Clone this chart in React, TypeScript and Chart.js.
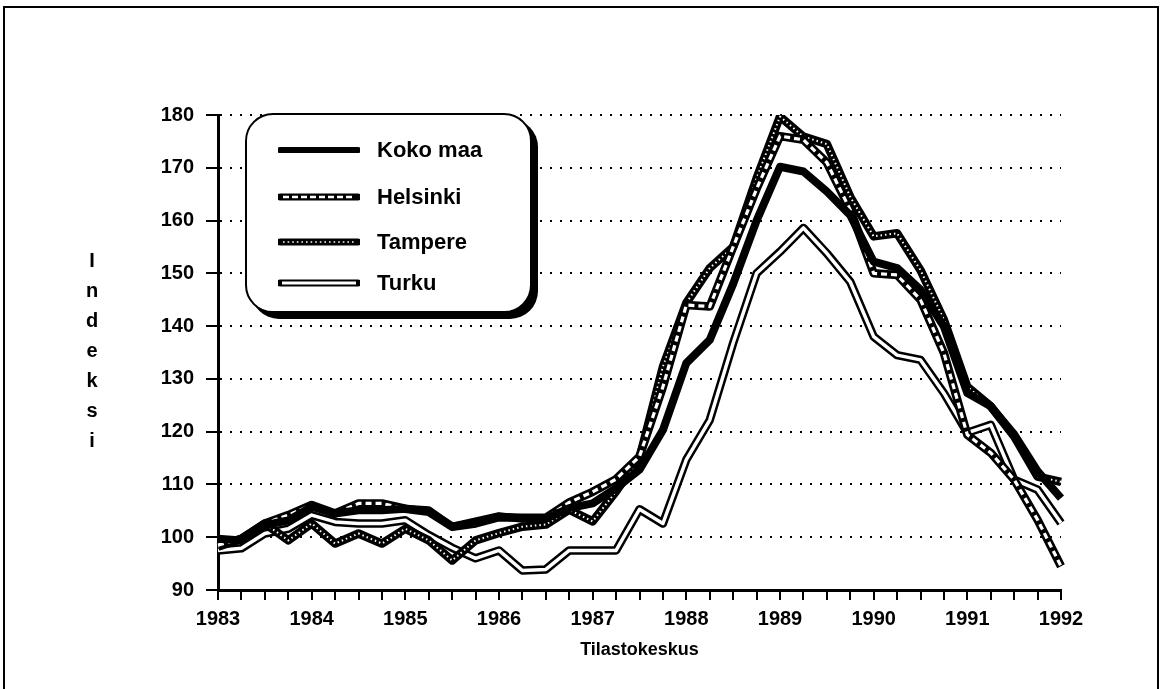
import React, { useEffect, useRef } from "react";
import { Chart, registerables } from "chart.js";

Chart.register(...registerables);

const quarters = [
  "1983 I", "1983 II", "1983 III", "1983 IV",
  "1984 I", "1984 II", "1984 III", "1984 IV",
  "1985 I", "1985 II", "1985 III", "1985 IV",
  "1986 I", "1986 II", "1986 III", "1986 IV",
  "1987 I", "1987 II", "1987 III", "1987 IV",
  "1988 I", "1988 II", "1988 III", "1988 IV",
  "1989 I", "1989 II", "1989 III", "1989 IV",
  "1990 I", "1990 II", "1990 III", "1990 IV",
  "1991 I", "1991 II", "1991 III", "1991 IV",
  "1992 I",
];

const kokoMaa = [
  99.7, 99.4, 102.3, 103.2, 105.8, 104.5, 105.1, 105.1, 105.4, 105.1, 102, 103,
  104, 103.5, 103.5, 105.5, 106.4, 109.3, 112.8, 120.3, 133, 137.4, 148, 160,
  170.2, 169.3, 165.5, 161, 152.2, 151, 146.9, 139.9, 127.3, 124.8, 119.5, 112.5,
  107.4,
];

const helsinki = [
  98.5, 99.7, 102.6, 104.2, 106.1, 104.5, 106.4, 106.4, 105.4, 104.8, 102, 102.6,
  103.8, 103.7, 103.7, 106.6, 108.6, 111, 115.3, 128.5, 144, 143.7, 155, 166,
  176, 175.3, 171, 162, 150, 149.7, 145, 134.9, 119.4, 116, 110.9, 103.3,
  94.5,
];

const tampere = [
  98.2, 99.7, 102.6, 99.4, 102.6, 98.8, 100.7, 98.8, 101.6, 99.4, 95.6, 99.4,
  100.8, 102, 102.4, 105.2, 103, 108.7, 115, 132.3, 144.4, 151, 155, 168,
  179.7, 175.9, 174.5, 164.5, 157, 157.6, 150.6, 141.2, 128.5, 124.8, 119.1, 111.5,
  110.5,
];

const turku = [
  97.5, 97.9, 100.7, 101.6, 104.2, 102.9, 102.6, 102.6, 103.2, 100.4, 98, 96,
  97.5, 93.7, 93.9, 97.5, 97.5, 97.5, 105.3, 102.6, 114.7, 122.2, 136.8, 150,
  154.1, 158.6, 153.8, 148.4, 138, 134.5, 133.6, 127.3, 119.8, 121.3, 110.9, 109,
  102.7,
];

const seriesNames = ["Koko maa", "Helsinki", "Tampere", "Turku"];
const yMin = 90;
const yMax = 180;
const yStep = 10;
const xTitle = "Tilastokeskus";
const yTitle = "Indeksi";

const FONT = "'Liberation Sans', Arial, Helvetica, sans-serif";

function line(data: number[], color: string, width: number, dash: number[], order: number) {
  return {
    data,
    borderColor: color,
    backgroundColor: color,
    borderWidth: width,
    borderDash: dash,
    borderJoinStyle: "round" as const,
    borderCapStyle: "butt" as const,
    pointRadius: 0,
    pointHoverRadius: 0,
    tension: 0,
    fill: false,
    order,
  };
}

function Sample({ kind }: { kind: number }) {
  const y = 6;
  return (
    <svg width={82} height={12} style={{ display: "block" }}>
      <line x1={2} y1={y} x2={80} y2={y} stroke="#000" strokeWidth={kind === 0 ? 6 : 7} strokeLinecap="round" />
      {kind === 1 && (
        <line x1={5} y1={y} x2={77} y2={y} stroke="#fff" strokeWidth={2.5} strokeDasharray="6 3" />
      )}
      {kind === 2 && (
        <line x1={5} y1={y} x2={77} y2={y} stroke="#fff" strokeWidth={1.6} strokeDasharray="1.6 3" />
      )}
      {kind === 3 && (
        <line x1={4} y1={y} x2={78} y2={y} stroke="#fff" strokeWidth={3} />
      )}
    </svg>
  );
}

export default function App() {
  const ref = useRef<HTMLCanvasElement>(null);

  useEffect(() => {
    if (!ref.current) return;
    const chart = new Chart(ref.current, {
      type: "line",
      data: {
        labels: quarters,
        datasets: [
          line(turku, "#000", 8.5, [], 8),
          line(turku, "#fff", 3.5, [], 7),
          line(tampere, "#000", 8.5, [], 6),
          line(tampere, "#fff", 2, [1.5, 3], 5),
          line(helsinki, "#000", 8.5, [], 4),
          line(helsinki, "#fff", 3.2, [6, 4], 3),
          line(kokoMaa, "#000", 8, [], 1),
        ] as any,
      },
      options: {
        responsive: false,
        animation: false,
        events: [],
        layout: { padding: { left: 0, right: 102, top: 115, bottom: 0 } },
        plugins: {
          legend: { display: false },
          tooltip: { enabled: false },
        },
        scales: {
          x: {
            type: "category",
            offset: false,
            grid: {
              drawOnChartArea: false,
              drawTicks: true,
              tickLength: 10,
              color: "#000",
              lineWidth: 2,
              offset: false,
            },
            border: { display: true, color: "#000", width: 3 },
            ticks: {
              autoSkip: false,
              maxRotation: 0,
              minRotation: 0,
              color: "#000",
              padding: 7,
              font: { family: FONT, size: 20, weight: "bold" },
              callback: (_v: any, i: number) =>
                quarters[i].endsWith(" I") ? quarters[i].slice(0, 4) : "",
            },
            title: {
              display: true,
              text: xTitle,
              color: "#000",
              font: { family: FONT, size: 18, weight: "bold" },
              padding: { top: 0, bottom: 28 },
            },
            afterFit: (s: any) => {
              s.height = 99;
            },
          },
          y: {
            min: yMin,
            max: yMax,
            grid: {
              color: "#000",
              lineWidth: 2,
              drawTicks: true,
              tickLength: 12,
              tickWidth: 2,
              tickBorderDash: [],
            },
            border: { display: true, color: "#000", width: 3, dash: [2, 8] },
            ticks: {
              stepSize: yStep,
              color: "#000",
              padding: 12,
              font: { family: FONT, size: 20, weight: "bold" },
            },
            afterFit: (s: any) => {
              s.width = 218;
            },
          },
        },
      } as any,
    });
    return () => chart.destroy();
  }, []);

  const rowYs = [150, 197, 242, 283];

  return (
    <div
      style={{
        position: "fixed",
        left: 0,
        top: 0,
        width: 1163,
        height: 689,
        background: "#fff",
        overflow: "hidden",
        fontFamily: FONT,
      }}
    >
      <div
        style={{
          position: "absolute",
          left: 3,
          top: 6,
          width: 1152,
          height: 720,
          border: "2px solid #000",
        }}
      />
      <canvas ref={ref} width={1163} height={689} style={{ position: "absolute", left: 0, top: 0 }} />
      <div
        style={{
          position: "absolute",
          left: 82,
          top: 245,
          width: 20,
          textAlign: "center",
          fontSize: 20,
          fontWeight: "bold",
          lineHeight: "30px",
          color: "#000",
        }}
      >
        {yTitle.split("").map((c, i) => (
          <div key={i}>{c}</div>
        ))}
      </div>
      <div
        style={{
          position: "absolute",
          left: 245,
          top: 113,
          width: 283,
          height: 196,
          border: "2.5px solid #000",
          borderRadius: 28,
          boxShadow: "6px 6px 0 #000",
          background: "#fff",
        }}
      />
      {seriesNames.map((name, i) => (
        <React.Fragment key={name}>
          <div style={{ position: "absolute", left: 278, top: rowYs[i] - 6 }}>
            <Sample kind={i} />
          </div>
          <div
            style={{
              position: "absolute",
              left: 377,
              top: rowYs[i] - 14,
              height: 28,
              lineHeight: "28px",
              fontSize: 22,
              fontWeight: "bold",
              color: "#000",
              whiteSpace: "nowrap",
            }}
          >
            {name}
          </div>
        </React.Fragment>
      ))}
    </div>
  );
}
